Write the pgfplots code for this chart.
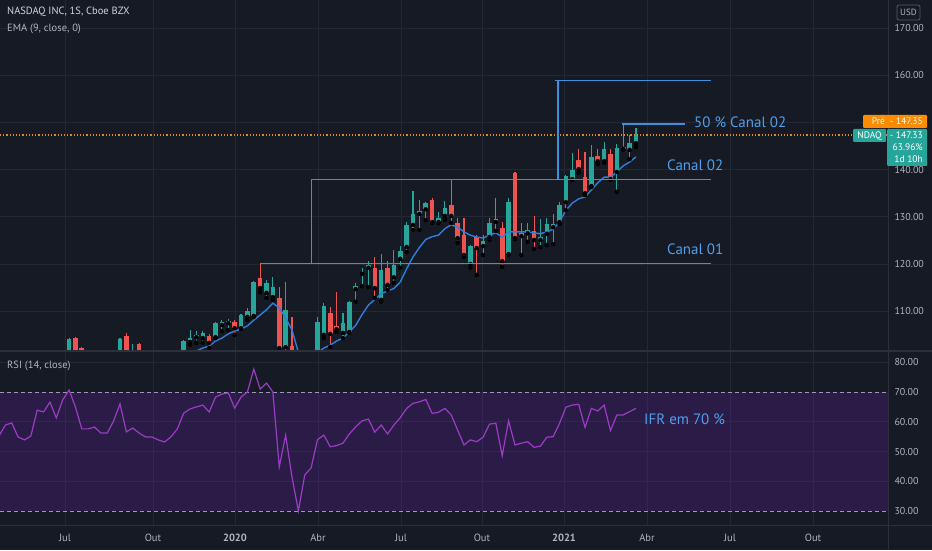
\documentclass[border=0pt]{standalone}
\usepackage{pgfplots}
\pgfplotsset{compat=1.18}
\usepackage{pgfplotstable}
\usepackage{fontspec}
\setmainfont{PT Sans}
\definecolor{bgc}{HTML}{161A25}
\definecolor{gridc}{HTML}{242836}
\definecolor{sepc}{HTML}{2C303C}
\definecolor{tickc}{HTML}{B2B5BE}
\definecolor{titlec}{HTML}{D1D4DC}
\definecolor{upc}{HTML}{26A69A}
\definecolor{dnc}{HTML}{EF5350}
\definecolor{emac}{HTML}{2F7ED8}
\definecolor{chanc}{HTML}{3D8FE0}
\definecolor{labc}{HTML}{4F9FEA}
\definecolor{rsic}{HTML}{9B3CC4}
\definecolor{bandc}{HTML}{6A1FB0}
\definecolor{dashc}{HTML}{9A9CB0}
\definecolor{orc}{HTML}{E08A1E}

\pgfplotstableread{
x o h l c
-39 101.0 104.3 100 104.1
-31 101.0 104.3 100 104.1
-29 101.0 103.1 100 101.3
-21 101.0 104.0 100.5 103.7
-20 103.5 106.0 102.9 104.3
-19 104.5 105.8 103.3 105.0
-18 104.3 105.8 103.3 105.4
-16 104.5 107.7 104.3 107.5
-15 107.1 108.1 105.8 107.7
-14 107.5 108.4 106.0 107.9
-12 106.4 109.4 106.2 109.2
-11 108.8 110.7 108.1 110.0
-10 109.0 116.4 108.8 116.2
-8 113.9 116.6 112.8 116.0
-7 113.0 117.2 112.4 115.1
-5 102.4 116.2 101.5 110.3
0 100.5 108.8 99.5 107.7
1 105.0 111.7 104.3 111.1
4 105.4 109.6 104.3 107.5
5 105.6 112.2 105.4 112.0
6 114.7 116.0 112.0 115.3
7 117.9 119.2 115.3 118.1
8 119.2 120.6 115.1 119.8
10 112.4 122.1 112.0 118.7
12 117.2 123.0 116.0 119.8
13 121.1 123.8 119.2 122.8
14 123.6 128.9 122.5 128.3
15 128.3 135.5 127.2 130.6
16 130.6 133.6 127.2 131.2
17 131.6 133.1 129.3 132.9
19 128.9 131.0 128.7 129.8
20 130.2 133.4 129.3 131.9
24 120.0 124.0 119.2 123.8
26 123.8 126.1 121.9 124.9
27 125.7 129.8 125.1 128.7
30 122.1 134.0 122.0 133.1
33 126.5 128.7 124.7 127.2
35 125.1 129.5 123.6 125.7
36 126.4 129.8 124.0 128.5
37 127.8 130.6 124.2 128.5
38 128.9 133.1 128.5 132.5
39 133.1 138.9 131.4 138.6
40 138.0 143.5 137.8 139.9
43 136.5 145.2 136.3 142.7
45 141.8 145.9 141.4 144.4
47 139.5 145.4 135.3 144.6
49 144.2 147.3 142.2 145.6
50 145.6 148.8 144.8 147.3
}\updata

\pgfplotstableread{
x o h l c
-38 104.3 104.5 100 101.0
-37 102.3 102.5 100 101.0
-30 104.7 105.4 100 101.0
-28 103.0 103.3 100 101.0
-17 104.7 105.2 102.2 103.3
-13 107.7 108.1 105.0 106.4
-9 117.0 120.2 114.0 114.9
-6 112.8 115.1 100 102.2
-4 102.6 108.8 99 100.5
2 109.6 110.9 102.4 105.2
3 106.9 114.1 105.6 106.2
9 119.2 121.5 112.8 114.9
11 119.2 120.6 114.5 115.6
18 133.6 134.0 128.7 128.9
21 132.5 137.8 128.7 130.2
22 128.7 129.8 124.5 125.5
23 126.1 129.8 121.5 121.9
25 125.7 126.1 117.7 123.4
28 129.5 134.0 127.0 128.9
29 127.6 128.9 119.4 120.6
31 139.3 139.5 125.3 125.5
32 126.5 128.7 121.9 125.9
34 127.0 130.2 123.2 125.1
41 142.0 144.4 139.3 140.1
42 138.4 143.7 134.6 135.0
44 142.9 144.4 141.2 141.8
46 143.3 144.4 137.8 138.0
48 144.8 149.7 144.2 144.4
}\dndata

\pgfplotstableread{
x v
-21 100.5
-20 100.9
-19 101.6
-18 102.2
-17 102.6
-16 103.7
-15 104.3
-14 105.2
-13 105.8
-12 106.2
-11 106.9
-10 108.1
-9 109.2
-8 110.3
-7 111.7
-6 110.7
-5 108.6
-4 106.0
-3 101.3
-2 99.0
-1 99.5
0 101.2
1 102.2
2 102.8
3 103.7
4 104.3
5 105.6
6 107.0
7 109.3
8 111.3
9 112.5
10 113.7
11 114.3
12 114.8
13 116.2
14 119.0
15 121.5
16 123.5
17 125.2
18 125.8
19 126.1
20 127.5
21 128.3
22 127.8
23 126.8
24 126.1
25 125.7
26 125.5
27 126.1
28 126.6
29 125.7
30 126.8
31 126.8
32 126.8
33 126.8
34 126.6
35 126.4
36 126.8
37 127.4
38 128.9
39 131.4
40 132.9
41 133.8
42 134.2
43 135.7
44 137.2
45 138.4
46 138.4
47 139.5
48 140.8
49 141.6
50 142.7
}\emadata

\pgfplotstableread{
x v
-50 55.2
-49 58.9
-48 59.6
-47 54.9
-46 53.9
-45 55.2
-44 63.9
-43 63.3
-42 66.6
-41 61.3
-40 67.3
-39 70.7
-38 65.0
-37 57.6
-36 57.6
-35 58.2
-34 56.2
-33 56.2
-32 60.3
-31 66.0
-30 56.6
-29 57.9
-28 56.2
-27 54.9
-26 54.9
-25 53.9
-24 53.2
-23 54.9
-22 57.6
-21 62.9
-20 64.3
-19 65.0
-18 65.6
-17 63.3
-16 68.3
-15 69.3
-14 69.7
-13 64.6
-12 68.3
-11 70.0
-10 77.7
-9 71.0
-8 73.0
-7 70.0
-6 44.8
-5 55.5
-4 41.4
-3 30.0
-2 42.1
-1 44.5
0 54.0
1 55.5
2 51.6
3 52.0
4 52.8
5 55.9
6 58.3
7 60.3
8 60.9
9 56.5
10 58.9
11 55.9
12 58.9
13 61.4
14 64.5
15 66.2
16 66.7
17 67.5
18 62.8
19 63.2
20 64.5
21 62.3
22 57.2
23 52.2
24 53.9
25 53.3
26 54.8
27 59.2
28 59.5
29 48.6
30 60.3
31 52.2
32 52.8
33 53.3
34 51.4
35 51.8
36 54.8
37 55.0
38 59.5
39 64.9
40 65.6
41 65.9
42 58.1
43 64.5
44 63.6
45 65.6
46 57.0
47 62.3
48 62.3
49 63.4
50 64.5
}\rsidata

\pgfplotsset{
  tvaxis/.style={
    scale only axis, width=888pt,
    xmin=-49.84, xmax=89.56,
    axis line style={draw=none},
    major tick length=0pt, minor tick length=0pt,
    xtick={-39.64,-25.82,-12.95,0.08,13.11,25.82,38.70,51.73,64.76,77.79},
    yticklabel pos=right,
    yticklabel style={font=\fontsize{10}{12}\selectfont, text=tickc, anchor=west, xshift=3pt},
    grid=major, major grid style={draw=gridc, line width=0.8pt},
    clip=true,
  },
  candlew/.style={only marks, mark=none, forget plot,
    error bars/.cd, y dir=plus, y explicit, error mark=none},
}

\begin{document}
\begin{tikzpicture}
\useasboundingbox (0,0) rectangle (932pt,550pt);
\fill[bgc] (0,0) rectangle (932pt,550pt);

% ---- price panel ----
\begin{axis}[tvaxis,
  at={(0pt,200pt)}, anchor=south west, height=350pt,
  ymin=101.78, ymax=175.93,
  xticklabels={},
  ytick={110,120,130,140,150,160,170},
  yticklabels={110.00,120.00,130.00,140.00,,160.00,170.00},
]
% wicks
\addplot[candlew, error bar style={draw=upc, line width=1.1pt}]
  table[x=x, y=l, y error plus expr=\thisrow{h}-\thisrow{l}] {\updata};
\addplot[candlew, error bar style={draw=dnc, line width=1.1pt}]
  table[x=x, y=l, y error plus expr=\thisrow{h}-\thisrow{l}] {\dndata};
% bodies
\addplot[candlew, error bar style={draw=upc, line width=4.6pt}]
  table[x=x, y=o, y error plus expr=\thisrow{c}-\thisrow{o}] {\updata};
\addplot[candlew, error bar style={draw=dnc, line width=4.6pt}]
  table[x=x, y=c, y error plus expr=\thisrow{o}-\thisrow{c}] {\dndata};
% current price dotted line
\addplot[draw=orc, color=orc, line width=1.1pt, dash pattern=on 1.2pt off 2pt, mark=none] coordinates {(-49.84,147.33) (89.56,147.33)};
% EMA
\addplot[draw=emac, color=emac, line width=1.4pt, mark=none] table[x=x, y=v] {\emadata};
% channel anchor points (price levels / weeks)
\coordinate (c1a) at (axis cs:-8.9,120.1);
\coordinate (c1b) at (axis cs:61.8,120.1);
\coordinate (c2a) at (axis cs:-0.94,120.1);
\coordinate (c2b) at (axis cs:-0.94,137.9);
\coordinate (c2c) at (axis cs:61.8,137.9);
\coordinate (c3a) at (axis cs:37.75,137.9);
\coordinate (c3b) at (axis cs:37.75,158.9);
\coordinate (c3c) at (axis cs:37.3,158.9);
\coordinate (c3d) at (axis cs:61.8,158.9);
\coordinate (c4a) at (axis cs:47.8,149.66);
\coordinate (c4b) at (axis cs:57.7,149.66);
\end{axis}

% channel lines
\begin{scope}[draw=chanc, line width=1.5pt]
\draw (c1a) -- (c1b);
\draw (c2a) -- (c2b) -- (c2c);
\draw (c3a) -- (c3b);
\draw (c3c) -- (c3d);
\draw (c4a) -- (c4b);
\end{scope}

% ---- RSI panel ----
\begin{axis}[tvaxis,
  at={(0pt,25pt)}, anchor=south west, height=173pt,
  ymin=25.29, ymax=83.45,
  xticklabels={Jul,Out,\textbf{2020},Abr,Jul,Out,\textbf{2021},Abr,Jul,Out},
  xticklabel style={font=\fontsize{10.5}{12}\selectfont, text=tickc, anchor=center, yshift=-13pt},
  ytick={40,50,60,80},
  yticklabels={40.00,50.00,60.00,80.00},
  extra y ticks={30,70},
  extra y tick labels={30.00,70.00},
  extra y tick style={grid=none},
]
\addplot[draw=none, fill=bandc, fill opacity=0.25, mark=none, forget plot]
  coordinates {(-49.84,30) (89.56,30) (89.56,70) (-49.84,70)} -- cycle;
\addplot[draw=dashc, line width=0.9pt, dash pattern=on 4pt off 3pt, mark=none] coordinates {(-49.84,70) (89.56,70)};
\addplot[draw=dashc, line width=0.9pt, dash pattern=on 4pt off 3pt, mark=none] coordinates {(-49.84,30) (89.56,30)};
\addplot[draw=rsic, color=rsic, line width=1.2pt, mark=none] table[x=x, y=v] {\rsidata};
\end{axis}

% separators
\draw[sepc, line width=1.5pt] (0,199pt) -- (932pt,199pt);
\draw[sepc, line width=1pt] (0,25pt) -- (932pt,25pt);
\draw[sepc, line width=1pt] (888pt,0) -- (888pt,550pt);

% legends / titles
\node[anchor=west, text=titlec, font=\fontsize{10.5}{12}\selectfont, inner sep=0] at (7pt,538pt) {NASDAQ INC, 1S, Cboe BZX};
\node[anchor=west, text=tickc, font=\fontsize{10.5}{12}\selectfont, inner sep=0] at (7pt,521pt) {EMA (9, close, 0)};
\node[anchor=west, text=tickc, font=\fontsize{10.5}{12}\selectfont, inner sep=0] at (7pt,184pt) {RSI (14, close)};

% annotations
\node[anchor=west, text=labc, font=\fontsize{15}{18}\selectfont, inner sep=0] at (694pt,428pt) {50 \% Canal 02};
\node[anchor=west, text=labc, font=\fontsize{15}{18}\selectfont, inner sep=0] at (667pt,385pt) {Canal 02};
\node[anchor=west, text=labc, font=\fontsize{15}{18}\selectfont, inner sep=0] at (667pt,301pt) {Canal 01};
\node[anchor=west, text=labc, font=\fontsize{15}{18}\selectfont, inner sep=0] at (644pt,131pt) {IFR em 70 \%};

% price axis badges
\draw[sepc!80!white, rounded corners=2pt, line width=0.8pt] (897pt,530pt) rectangle (920pt,545pt);
\node[text=tickc, font=\fontsize{9}{10}\selectfont, inner sep=0] at (908.5pt,537.5pt) {USD};
\fill[orange!90!yellow, rounded corners=1pt] (863pt,422pt) rectangle (927pt,435pt);
\node[anchor=east, text=white, font=\fontsize{9.5}{11}\selectfont, inner sep=0] at (923pt,428.5pt) {Pré\ \ -\ 147.35};
\fill[upc, rounded corners=1pt] (853pt,408pt) rectangle (886pt,421pt);
\node[text=white, font=\fontsize{9.5}{11}\selectfont, inner sep=0] at (869.5pt,414.5pt) {NDAQ};
\fill[upc, rounded corners=1pt] (887pt,384pt) rectangle (927pt,421pt);
\node[anchor=east, text=white, font=\fontsize{9.5}{11}\selectfont, inner sep=0] at (923pt,414.5pt) {-\ 147.33};
\node[anchor=east, text=white, font=\fontsize{9.5}{11}\selectfont, inner sep=0] at (923pt,402.5pt) {63.96\%};
\node[anchor=east, text=white, font=\fontsize{9.5}{11}\selectfont, inner sep=0] at (923pt,390.5pt) {1d 10h};
\end{tikzpicture}
\end{document}
